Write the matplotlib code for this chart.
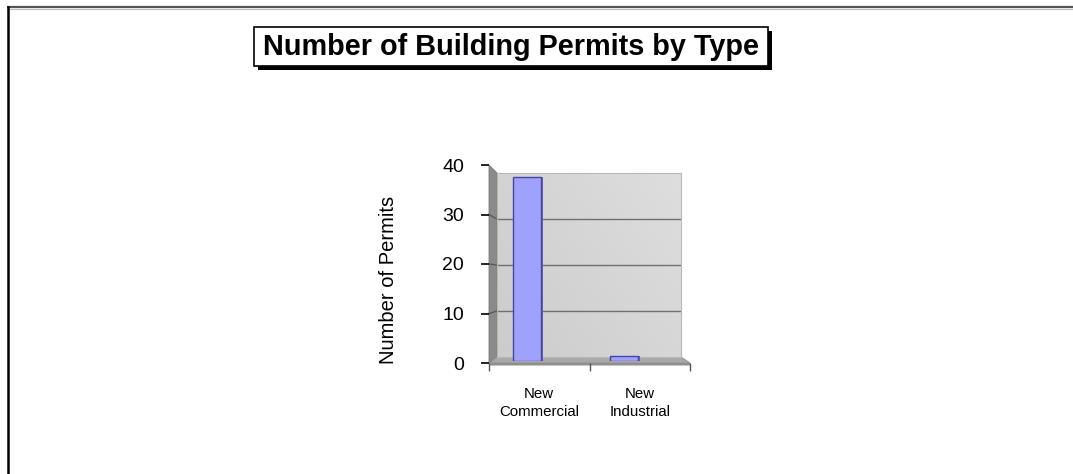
import matplotlib
matplotlib.use("Agg")
import matplotlib.pyplot as plt
import numpy as np
from matplotlib.patches import Polygon, Rectangle

plt.rcParams['font.family'] = ['Liberation Sans', 'DejaVu Sans']

# ---- data ----
categories = ["New\nCommercial", "New\nIndustrial"]
permits = [38, 1]
y_ticks = [0, 10, 20, 30, 40]
title = "Number of Building Permits by Type"
y_label = "Number of Permits"

W, H = 1073, 474
fig = plt.figure(figsize=(W / 100, H / 100), dpi=100)

def fpos(x0, y0, x1, y1):
    # pixel box (top-left origin) -> figure fraction
    return [x0 / W, 1 - y1 / H, (x1 - x0) / W, (y1 - y0) / H]

# background/decoration axes in pixel coords
bg = fig.add_axes([0, 0, 1, 1])
bg.set_xlim(0, W)
bg.set_ylim(H, 0)
bg.axis('off')

# outer frame
bg.plot([7, W], [7, 7], color='#555555', lw=1.6, solid_capstyle='butt')
bg.plot([7, W], [8.5, 8.5], color='#bbbbbb', lw=0.8)
bg.plot([7.5, 7.5], [7, H], color='black', lw=1.8)

# title box with shadow
bg.add_patch(Rectangle((258, 31), 514, 39, facecolor='black', edgecolor='none'))
bg.add_patch(Rectangle((254, 27), 514, 39, facecolor='white', edgecolor='black', lw=1.2))
bg.text(511, 47, title, fontsize=20.8, fontweight='bold', ha='center', va='center')

# geometry of pseudo-3D walls (pixels)
fx0, fx1, fy0, fy1 = 489, 690, 165, 363   # front plane
bx0, bx1, by0, by1 = 497, 681, 173, 357   # back plane

# left wall
bg.add_patch(Polygon([(fx0, fy0), (bx0, by0), (bx0, by1), (fx0, fy1)],
                     closed=True, facecolor='#8a8a8a', edgecolor='#7a7a7a', lw=0.6))
# floor
bg.add_patch(Polygon([(fx0, fy1), (bx0, by1), (bx1, by1), (fx1, fy1)],
                     closed=True, facecolor='#a9a9a9', edgecolor='#8c8c8c', lw=0.6))
bg.add_patch(Polygon([(fx0, fy1), (fx1, fy1), (fx1 + 1, fy1 + 2.5), (fx0, fy1 + 2.5)],
                     closed=True, facecolor='#8f8f8f', edgecolor='none'))

# back wall axes (gradient + gridlines)
axb = fig.add_axes(fpos(bx0, by0, bx1, by1))
axb.set_xlim(0, 1)
axb.set_ylim(y_ticks[0], y_ticks[-1])
grad = np.linspace(0, 1, 256)
gx, gy = np.meshgrid(grad, grad)
g = 0.80 + 0.07 * (0.6 * gx + 0.4 * gy)
axb.imshow(np.dstack([g, g, g]), extent=[0, 1, y_ticks[0], y_ticks[-1]],
           origin='lower', aspect='auto', zorder=0)
for v in y_ticks[1:-1]:
    axb.axhline(v, color='#6f6f6f', lw=1.0, zorder=1)
axb.set_xticks([])
axb.set_yticks([])
for s in axb.spines.values():
    s.set_color('#b8b8b8')
    s.set_linewidth(0.8)

# front axes: ticks and labels
axf = fig.add_axes(fpos(fx0, fy0, fx1, fy1))
axf.set_facecolor('none')
axf.set_xlim(-0.5, len(categories) - 0.5)
axf.set_ylim(y_ticks[0], y_ticks[-1])
axf.set_yticks(y_ticks)
axf.set_yticklabels([str(t) for t in y_ticks], fontsize=14)
axf.tick_params(axis='y', length=6, width=1.2, color='black', pad=12, direction='out')
axf.set_xticks(range(len(categories)))
axf.set_xticklabels(categories, fontsize=10.8, linespacing=1.3)
axf.tick_params(axis='x', length=0, pad=17.5)
axf.set_xticks(np.arange(-0.5, len(categories), 1.0), minor=True)
axf.tick_params(axis='x', which='minor', length=6, width=1.0, color='#555555', direction='out')
for k, s in axf.spines.items():
    s.set_visible(False)

# gridline connectors on left wall (front tick -> back wall)
fig.canvas.draw()
for v in y_ticks[1:-1]:
    p0 = axf.transData.transform((axf.get_xlim()[0], v))
    p1 = axb.transData.transform((0, v))
    q0 = bg.transData.inverted().transform(p0)
    q1 = bg.transData.inverted().transform(p1)
    bg.plot([q0[0], q1[0]], [q0[1], q1[1]], color='#5a5a5a', lw=1.0)

# bars (middle depth plane)
axm = fig.add_axes(fpos(478.5, 167.3, 672.5, 361))
axm.set_facecolor('none')
axm.set_xlim(-0.5, len(categories) - 0.5)
axm.set_ylim(y_ticks[0], y_ticks[-1])
xs = np.arange(len(categories))
bw = 0.29
side = 0.025
axm.bar(xs + bw / 2 + side / 2, permits, width=side, color='#6464b8',
        edgecolor='none', zorder=2)
axm.bar(xs, permits, width=bw, color='#a0a0ff', edgecolor='#45459a', lw=1.0, zorder=3)
axm.axis('off')

# y-axis label
fig.text(389 / W, 1 - 280 / H, y_label, rotation=90, fontsize=14.5,
         ha='center', va='center')

fig.savefig('out.png', dpi=100)
